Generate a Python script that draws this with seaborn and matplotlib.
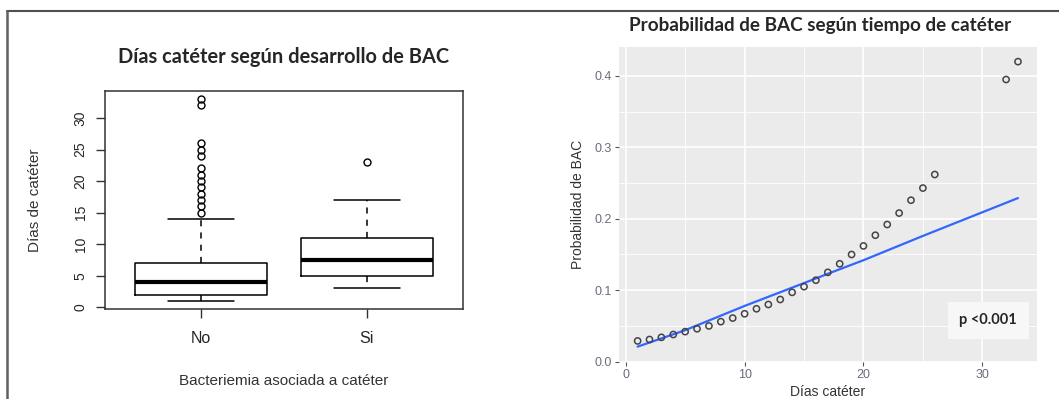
import numpy as np
import pandas as pd
import matplotlib
matplotlib.use("Agg")
import matplotlib.pyplot as plt
from matplotlib.lines import Line2D
from matplotlib.ticker import MultipleLocator
import seaborn as sns

# ---- left panel: dias de cateter por BAC (resumen de la caja) ----
grupos = ["No", "Si"]
q1 = [2, 5]
mediana = [4, 7.5]
q3 = [7, 11]
bigote_inf = [1, 3]
bigote_sup = [14, 17]
atipicos_no = [15, 16, 17, 18, 19, 20, 21, 22, 24, 25, 26, 32, 33]
atipicos_si = [23]

# ---- right panel: probabilidad de BAC segun dias ----
dias = list(range(1, 27)) + [32, 33]
prob_bac = [0.029, 0.031, 0.034, 0.038, 0.042, 0.046, 0.050, 0.056, 0.061, 0.067,
            0.074, 0.080, 0.087, 0.097, 0.105, 0.114, 0.125, 0.137, 0.150, 0.162,
            0.177, 0.192, 0.208, 0.226, 0.243, 0.262, 0.395, 0.420]
ajuste_x = [1, 5, 10, 15, 17, 20, 25, 33]
ajuste_y = [0.021, 0.044, 0.078, 0.110, 0.123, 0.142, 0.176, 0.229]

sns.set_style("white")
plt.rcParams["font.family"] = ["Liberation Sans", "DejaVu Sans"]

W, H = 1059, 399
fig = plt.figure(figsize=(W / 100, H / 100), dpi=100)

def fx(px):
    return px / W

def fy(py):
    return 1 - py / H

# ===== left: boxplot estilo R =====
ax1 = fig.add_axes([fx(105), fy(309), fx(463) - fx(105), fy(91) - fy(309)])
stats = []
fliers = [atipicos_no, atipicos_si]
for i, g in enumerate(grupos):
    stats.append(dict(label=g, med=mediana[i], q1=q1[i], q3=q3[i],
                      whislo=bigote_inf[i], whishi=bigote_sup[i], fliers=fliers[i]))
ax1.bxp(stats, positions=[1, 2], widths=0.8, capwidths=0.4, patch_artist=False,
        boxprops=dict(color="black", linewidth=1.1),
        medianprops=dict(color="black", linewidth=3),
        whiskerprops=dict(color="black", linewidth=1.1, linestyle=(0, (4, 4))),
        capprops=dict(color="black", linewidth=1.1),
        flierprops=dict(marker="o", markerfacecolor="none", markeredgecolor="black",
                        markersize=5, markeredgewidth=1))
ax1.set_xlim(0.42, 2.58)
ax1.set_ylim(-0.28, 34.28)
ax1.set_yticks([0, 5, 10, 15, 20, 25, 30])
ax1.set_xticks([1, 2])
ax1.set_xticklabels(grupos)
for s in ax1.spines.values():
    s.set_color("#333333")
    s.set_linewidth(1.1)
    s.set_visible(True)
ax1.tick_params(axis="both", direction="out", length=6.5, width=1, color="#333333",
                left=True, bottom=True)
ax1.tick_params(axis="y", labelsize=10, pad=6, labelrotation=90)
ax1.tick_params(axis="x", labelsize=11.5, pad=9)
for t in ax1.get_yticklabels():
    t.set_va("center")
ax1.set_ylabel("Días de catéter", fontsize=11, color="#333333")
ax1.yaxis.set_label_coords(-0.176, 0.5)
ax1.set_xlabel("Bacteriemia asociada a catéter", fontsize=11, color="#333333")
ax1.xaxis.set_label_coords(0.5, -0.30)
ax1.grid(False)

fig.text(fx(284), fy(57), "Días catéter según desarrollo de BAC", ha="center", va="center",
         fontsize=14.4, fontweight="bold", family=["Lato", "DejaVu Sans"])

# ===== right: ggplot estilo =====
ax2 = fig.add_axes([fx(618.6), fy(362), fx(1037) - fx(618.6), fy(47) - fy(362)])
ax2.set_facecolor("#EBEBEB")
df = pd.DataFrame({"dias": dias, "prob": prob_bac})
fit = pd.DataFrame({"dias": ajuste_x, "prob": ajuste_y})
sns.lineplot(data=fit, x="dias", y="prob", color="#3366FF", linewidth=1.6, ax=ax2, zorder=3)
sns.scatterplot(data=df, x="dias", y="prob", ax=ax2, marker="o", s=20,
                facecolor="none", edgecolor="#444444", linewidth=1.1, zorder=4)
ax2.set_xlim(-0.6, 34.6)
ax2.set_ylim(-0.0005, 0.4405)
ax2.xaxis.set_major_locator(MultipleLocator(10))
ax2.xaxis.set_minor_locator(MultipleLocator(5))
ax2.yaxis.set_major_locator(MultipleLocator(0.1))
ax2.yaxis.set_minor_locator(MultipleLocator(0.05))
ax2.set_yticklabels([f"{v:.1f}" for v in ax2.get_yticks()])
ax2.grid(which="major", color="white", linewidth=1.2)
ax2.grid(which="minor", color="white", linewidth=0.6)
ax2.set_axisbelow(True)
for s in ax2.spines.values():
    s.set_visible(False)
ax2.tick_params(axis="both", which="major", direction="out", length=3, width=0.8,
                color="#555555", labelcolor="#6b6b7b", labelsize=9, pad=2,
                left=True, bottom=True)
ax2.tick_params(axis="both", which="minor", length=0)
ax2.set_ylabel("Probabilidad de BAC", fontsize=10, color="#333333")
ax2.yaxis.set_label_coords(-0.080, 0.5)
ax2.set_xlabel("Días catéter", fontsize=10, color="#333333")
ax2.xaxis.set_label_coords(0.5, -0.072)
ax2.text(30.5, 0.058, "p <0.001", ha="center", va="center", fontsize=10.5,
         fontweight="bold", family=["Lato", "DejaVu Sans"],
         bbox=dict(boxstyle="square,pad=0.8", facecolor="#F7F7F7", edgecolor="none"))

fig.text(fx(820), fy(25), "Probabilidad de BAC según tiempo de catéter", ha="center",
         va="center", fontsize=13.6, fontweight="bold", family=["Lato", "DejaVu Sans"])

# marco del collage
fig.add_artist(Line2D([fx(7), 1], [fy(11), fy(11)], color="#505050", linewidth=1.5))
fig.add_artist(Line2D([fx(7), fx(7)], [0, fy(11)], color="#606060", linewidth=1.8))

fig.savefig("out.png", dpi=100)
